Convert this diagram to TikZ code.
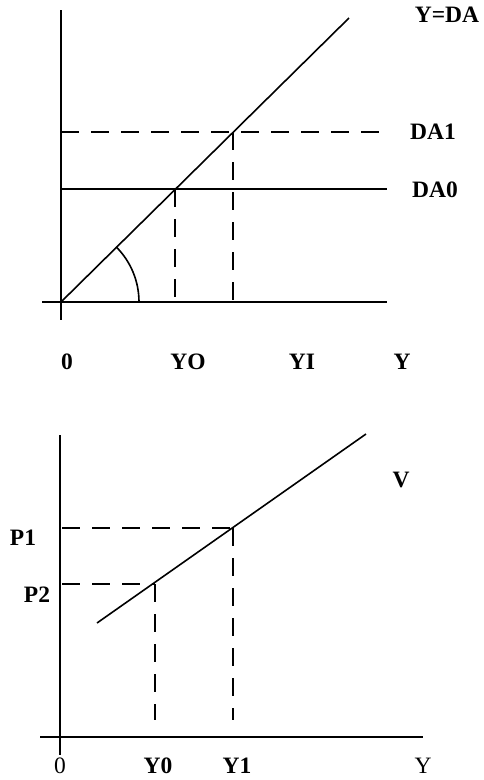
\documentclass[tikz,border=0pt]{standalone}
\usepackage{fontspec}
\setmainfont{Liberation Serif}
\begin{document}
\begin{tikzpicture}[x=1pt,y=-1pt,
  ax/.style={line width=1.7pt},
  ln/.style={line width=1.6pt},
  dsh/.style={line width=1.6pt,dash pattern=on 18pt off 12pt},
  lab/.style={font=\fontsize{23.5}{25}\selectfont\bfseries,inner sep=0pt},
  labl/.style={font=\fontsize{23.5}{25}\selectfont,inner sep=0pt}]
\useasboundingbox (0,0) rectangle (484,780);
% ---------- top panel ----------
\coordinate (tO) at (61,302);
\coordinate (tYt) at (61,10);
\coordinate (tYb) at (61,320);
\coordinate (tXl) at (42,302);
\coordinate (tXr) at (387,302);
\coordinate (tD) at (349,18);
\coordinate (a0) at (175,189);
\coordinate (a1) at (233,132);
\coordinate (a0l) at (61,189);
\coordinate (a0r) at (387,189);
\coordinate (a1l) at (61,132);
\coordinate (a1r) at (387,132);
\coordinate (a0b) at (175,302);
\coordinate (a1b) at (233,302);
\draw[ax] (tYt) -- (tYb);
\draw[ax] (tXl) -- (tXr);
\draw[ln] (tO) -- (tD);
\draw[ln] (a0l) -- (a0r);
\draw[dsh] (a1l) -- (a1r);
\draw[dsh] (a0) -- (a0b);
\draw[dsh] (a1) -- (a1b);
\draw[ln] (tO) ++(78,0) arc[start angle=0,end angle=-45,radius=78];
\node[lab] (lyda) at (447,15) {Y=DA};
\node[lab] (lda1) at (433,132) {DA1};
\node[lab] (lda0) at (435,190) {DA0};
\node[lab] (l0t) at (67,362) {0};
\node[lab] (lyo) at (188,362) {YO};
\node[lab] (lyi) at (302,362) {YI};
\node[lab] (lyt) at (402,362) {Y};
% ---------- bottom panel ----------
\coordinate (bYt) at (60,435);
\coordinate (bYb) at (60,755);
\coordinate (bXl) at (40,737);
\coordinate (bXr) at (423,737);
\coordinate (vs) at (97,623);
\coordinate (ve) at (366,434);
\coordinate (p1) at (233,528);
\coordinate (p2) at (155,584);
\coordinate (p1l) at (62,528);
\coordinate (p2l) at (62,584);
\coordinate (p1b) at (233,720);
\coordinate (p2b) at (155,720);
\draw[ax] (bYt) -- (bYb);
\draw[ax] (bXl) -- (bXr);
\draw[ln] (vs) -- (ve);
\draw[dsh] (p1l) -- (p1);
\draw[dsh] (p2l) -- (p2);
\draw[dsh] (p1) -- (p1b);
\draw[dsh] (p2) -- (p2b);
\node[lab] (lv) at (401,480) {V};
\node[lab] (lp1) at (23,538) {P1};
\node[lab] (lp2) at (37,595) {P2};
\node[labl] (l0b) at (60,766) {0};
\node[lab] (ly0) at (158,766) {Y0};
\node[lab] (ly1) at (237,766) {Y1};
\node[labl] (lyb) at (423,766) {Y};
\end{tikzpicture}
\end{document}
